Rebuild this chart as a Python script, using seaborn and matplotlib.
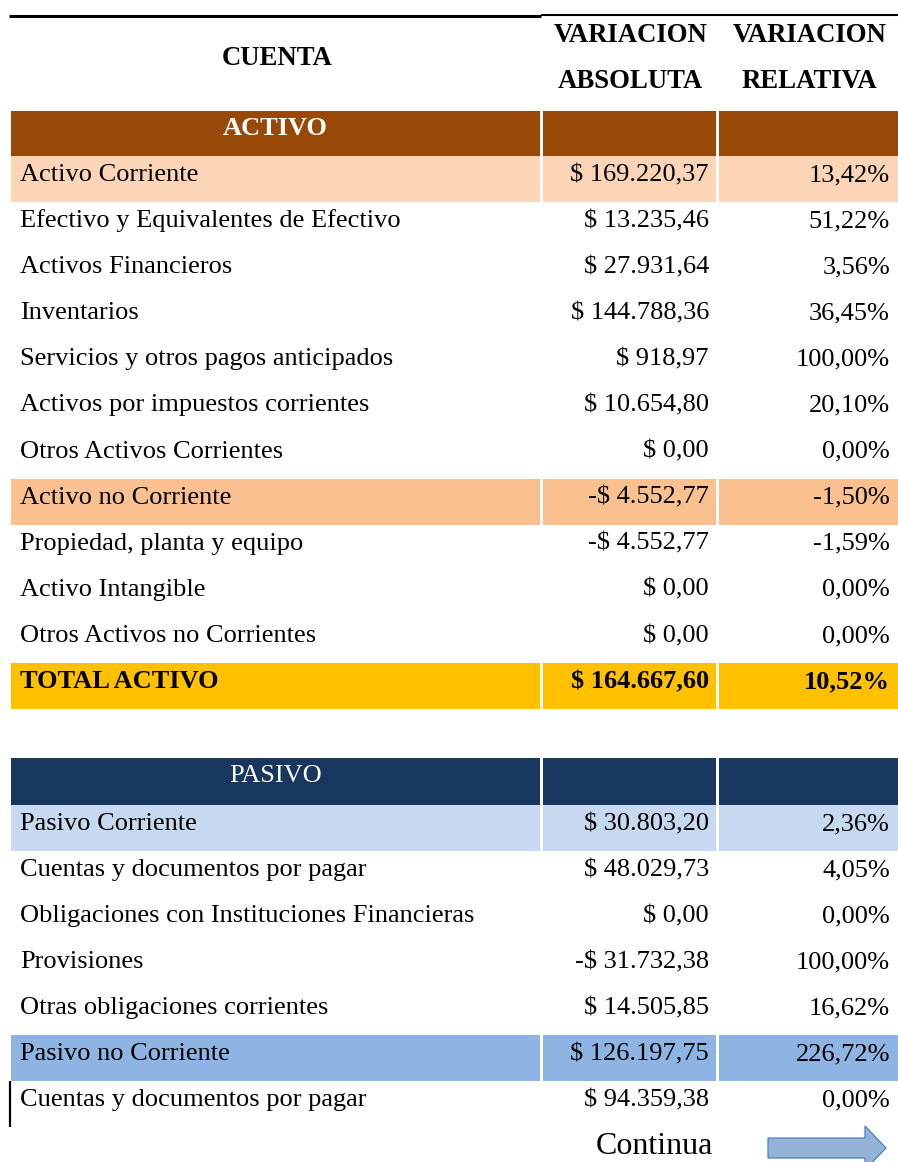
import matplotlib
matplotlib.use("Agg")
import matplotlib.pyplot as plt
from matplotlib.patches import FancyArrow
import seaborn as sns

# ---------------- data ----------------
header_cuenta = "CUENTA"
header_abs = ["VARIACION", "ABSOLUTA"]
header_rel = ["VARIACION", "RELATIVA"]

activo_titulo = "ACTIVO"
activo_cuentas = [
    "Activo Corriente",
    "Efectivo y Equivalentes de Efectivo",
    "Activos Financieros",
    "Inventarios",
    "Servicios y otros pagos anticipados",
    "Activos por impuestos corrientes",
    "Otros Activos Corrientes",
    "Activo no Corriente",
    "Propiedad, planta y equipo",
    "Activo Intangible",
    "Otros Activos no Corrientes",
    "TOTAL ACTIVO",
]
activo_abs = [
    "$ 169.220,37", "$ 13.235,46", "$ 27.931,64", "$ 144.788,36", "$ 918,97",
    "$ 10.654,80", "$ 0,00", "-$ 4.552,77", "-$ 4.552,77", "$ 0,00", "$ 0,00",
    "$ 164.667,60",
]
activo_rel = [
    "13,42%", "51,22%", "3,56%", "36,45%", "100,00%", "20,10%", "0,00%",
    "-1,50%", "-1,59%", "0,00%", "0,00%", "10,52%",
]
activo_tipo = ["sub1", "item", "item", "item", "item", "item", "item",
               "sub2", "item", "item", "item", "total"]

pasivo_titulo = "PASIVO"
pasivo_cuentas = [
    "Pasivo Corriente",
    "Cuentas y documentos por pagar",
    "Obligaciones con Instituciones Financieras",
    "Provisiones",
    "Otras obligaciones corrientes",
    "Pasivo no Corriente",
    "Cuentas y documentos por pagar",
]
pasivo_abs = ["$ 30.803,20", "$ 48.029,73", "$ 0,00", "-$ 31.732,38",
              "$ 14.505,85", "$ 126.197,75", "$ 94.359,38"]
pasivo_rel = ["2,36%", "4,05%", "0,00%", "100,00%", "16,62%", "226,72%", "0,00%"]
pasivo_tipo = ["sub1", "item", "item", "item", "item", "sub2", "item"]

pie_texto = "Continua"

# ---------------- styles ----------------
activo_colores = {"title": "#984807", "sub1": "#FBD5B5", "sub2": "#FAC090",
                  "total": "#FFC000"}
pasivo_colores = {"title": "#17375E", "sub1": "#C6D9F1", "sub2": "#8DB4E2"}

sns.set_theme(style="white")
plt.rcParams['font.family'] = ['Liberation Serif', 'DejaVu Serif']
plt.rcParams['text.color'] = 'black'

W, H = 898, 1162
fig = plt.figure(figsize=(W / 100, H / 100), dpi=100)
ax = fig.add_axes([0, 0, 1, 1])
ax.set_xlim(0, W)
ax.set_ylim(H, 0)
ax.axis('off')

COLS = [(11, 540), (543, 716), (719, 898)]
X_TEXT = 20
X_ABS = 709
X_REL = 890
FS = 19
FS_HEAD = 19.3
BASE = 25


def fill_row(top, height, color):
    for left, right in COLS:
        ax.barh(top + height / 2, right - left, left=left, height=height,
                color=color, edgecolor='none', linewidth=0)


def section(top_title, title_h, pitch, titulo, cuentas, absv, relv, tipos,
            colores, title_bold):
    fill_row(top_title, title_h, colores["title"])
    ax.text((COLS[0][0] + COLS[0][1]) / 2, top_title + BASE - 1, titulo,
            ha='center', va='baseline', color='white', fontsize=FS,
            fontweight='bold' if title_bold else 'normal')
    top0 = top_title + title_h
    for i, (c, a, r, t) in enumerate(zip(cuentas, absv, relv, tipos)):
        top = top0 + i * pitch
        if t in colores:
            fill_row(top, pitch, colores[t])
        fw = 'bold' if t == 'total' else 'normal'
        ax.text(X_TEXT, top + BASE, c, ha='left', va='baseline',
                fontsize=FS, fontweight=fw, color='black')
        ax.text(X_ABS, top + BASE, a, ha='right', va='baseline',
                fontsize=FS, fontweight=fw, color='black')
        ax.text(X_REL, top + BASE, r, ha='right', va='baseline',
                fontsize=FS, fontweight=fw, color='black')


# header rule
ax.plot([9, 541], [15.5, 15.5], color='black', lw=2.2, solid_capstyle='butt')
ax.plot([541, 898], [15.3, 15.3], color='black', lw=1.5, solid_capstyle='butt')

# header texts
ax.text((COLS[0][0] + COLS[0][1]) / 2 + 2, 65, header_cuenta, ha='center',
        va='baseline', fontsize=FS_HEAD, fontweight='bold', color='black')
for (left, right), lines in zip(COLS[1:], [header_abs, header_rel]):
    cx = (left + right) / 2
    ax.text(cx + 1, 42, lines[0], ha='center', va='baseline', fontsize=FS_HEAD,
            fontweight='bold', color='black')
    ax.text(cx + 1, 88, lines[1], ha='center', va='baseline', fontsize=FS_HEAD,
            fontweight='bold', color='black')

section(111, 45, 46.1, activo_titulo, activo_cuentas, activo_abs, activo_rel,
        activo_tipo, activo_colores, True)
section(758, 47, 46.0, pasivo_titulo, pasivo_cuentas, pasivo_abs, pasivo_rel,
        pasivo_tipo, pasivo_colores, False)

# left marker line on last row
ax.plot([10, 10], [1081, 1127], color='black', lw=1.6, solid_capstyle='butt')

# footer
ax.text(713, 1154, pie_texto, ha='right', va='baseline', fontsize=23,
        color='black')
ax.add_patch(FancyArrow(768, 1148, 118, 0, width=20, head_width=44,
                        head_length=21, length_includes_head=True,
                        facecolor='#95B3D7', edgecolor='#4F81BD', linewidth=0.9))

fig.savefig("out.png", dpi=100, facecolor='white')
